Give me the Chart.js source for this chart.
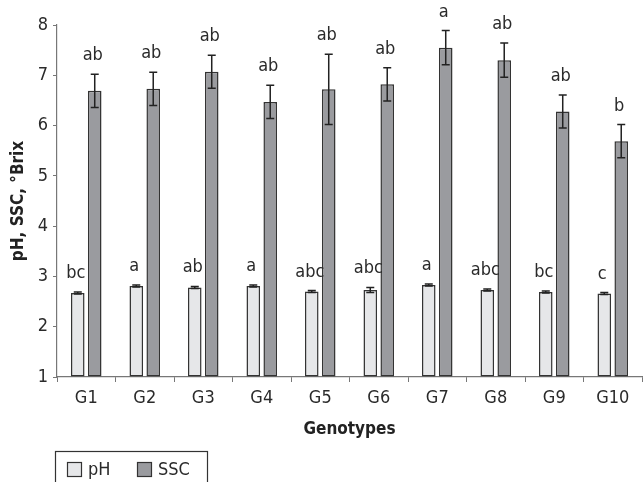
<!DOCTYPE html>
<html>
<head>
<meta charset="utf-8">
<script src="https://cdn.jsdelivr.net/npm/chart.js@4.4.1/dist/chart.umd.min.js"></script>
<style>
  html, body { margin: 0; padding: 0; background: #fff; }
  #wrap { width: 644px; height: 482px; position: relative; }
</style>
</head>
<body>
<div id="wrap"><canvas id="myChart" width="644" height="482"></canvas></div>
<script>
const genotypes = ['G1', 'G2', 'G3', 'G4', 'G5', 'G6', 'G7', 'G8', 'G9', 'G10'];
const phValues = [2.67, 2.81, 2.78, 2.81, 2.70, 2.73, 2.83, 2.73, 2.69, 2.66];
const phErrors = [0.02, 0.02, 0.02, 0.02, 0.02, 0.05, 0.02, 0.02, 0.02, 0.02];
const sscValues = [6.69, 6.73, 7.07, 6.47, 6.72, 6.82, 7.55, 7.30, 6.28, 5.69];
const sscErrors = [0.33, 0.33, 0.33, 0.33, 0.70, 0.33, 0.34, 0.34, 0.33, 0.33];
const phLetters = ['bc', 'a', 'ab', 'a', 'abc', 'abc', 'a', 'abc', 'bc', 'c'];
const sscLetters = ['ab', 'ab', 'ab', 'ab', 'ab', 'ab', 'a', 'ab', 'ab', 'b'];
const yTicks = [1, 2, 3, 4, 5, 6, 7, 8];

const FONT = '"Liberation Sans Narrow", "DejaVu Sans Condensed", "Roboto", sans-serif';

// error bars + significance letters on top of each bar
const errorBars = {
    id: 'errorBars',
    afterDatasetsDraw(chart) {
        const ctx = chart.ctx;
        const y = chart.scales.y;
        ctx.save();
        chart.data.datasets.forEach((ds, i) => {
            const meta = chart.getDatasetMeta(i);
            meta.data.forEach((bar, j) => {
                const v = ds.data[j];
                const e = ds.errors[j];
                const top = y.getPixelForValue(v + e);
                const bot = y.getPixelForValue(v - e);
                ctx.strokeStyle = '#222';
                ctx.lineWidth = 1.5;
                ctx.beginPath();
                ctx.moveTo(bar.x, top);
                ctx.lineTo(bar.x, bot);
                ctx.moveTo(bar.x - 4, top);
                ctx.lineTo(bar.x + 4, top);
                ctx.moveTo(bar.x - 4, bot);
                ctx.lineTo(bar.x + 4, bot);
                ctx.stroke();

                ctx.fillStyle = '#2a2a2a';
                ctx.font = '18px ' + FONT;
                ctx.textAlign = 'center';
                ctx.textBaseline = 'alphabetic';
                ctx.fillText(ds.letters[j], bar.x - 2, top - 14);
            });
        });
        ctx.restore();
    }
};

// boxed legend under the x axis title
const boxLegend = {
    id: 'boxLegend',
    afterDraw(chart) {
        const ctx = chart.ctx;
        ctx.save();
        ctx.strokeStyle = '#333';
        ctx.lineWidth = 1.2;
        ctx.strokeRect(55.5, 451.5, 152, 40);
        ctx.font = '18px ' + FONT;
        ctx.textBaseline = 'middle';
        ctx.textAlign = 'left';
        const xs = [67, 137];
        chart.data.datasets.forEach((ds, i) => {
            ctx.fillStyle = ds.backgroundColor;
            ctx.fillRect(xs[i] + 0.5, 462.5, 14, 14);
            ctx.strokeStyle = '#333';
            ctx.strokeRect(xs[i] + 0.5, 462.5, 14, 14);
            ctx.fillStyle = '#2a2a2a';
            ctx.fillText(ds.label, xs[i] + 21, 470);
        });
        ctx.restore();
    }
};

const ctx = document.getElementById('myChart');

new Chart(ctx, {
    type: 'bar',
    data: {
        labels: genotypes,
        datasets: [{
            label: 'pH',
            data: phValues,
            errors: phErrors,
            letters: phLetters,
            base: 1,
            backgroundColor: '#e6e7e9',
            borderColor: '#333',
            borderWidth: 1.5,
            borderSkipped: false,
            categoryPercentage: 0.58,
            barPercentage: 0.8
        }, {
            label: 'SSC',
            data: sscValues,
            errors: sscErrors,
            letters: sscLetters,
            base: 1,
            backgroundColor: '#9a9b9f',
            borderColor: '#333',
            borderWidth: 1.5,
            borderSkipped: false,
            categoryPercentage: 0.58,
            barPercentage: 0.8
        }]
    },
    options: {
        responsive: false,
        animation: false,
        layout: { padding: { top: 25, right: 2, left: 0, bottom: 0 } },
        plugins: {
            legend: { display: false },
            tooltip: { enabled: false }
        },
        scales: {
            x: {
                grid: { display: true, drawOnChartArea: false, color: '#777', tickLength: 5, lineWidth: 1 },
                border: { color: '#777', width: 1.2 },
                ticks: { color: '#2a2a2a', font: { family: FONT, size: 18 }, padding: 6 },
                title: {
                    display: true, text: 'Genotypes', color: '#222',
                    font: { family: FONT, size: 17, weight: 'bold' },
                    padding: { top: 0, bottom: 42 }
                },
                afterFit(scale) { scale.height = 105; }
            },
            y: {
                min: 1,
                max: 8,
                afterBuildTicks(scale) { scale.ticks = yTicks.map(v => ({ value: v })); },
                grid: { display: true, drawOnChartArea: false, color: '#777', tickLength: 4 },
                border: { color: '#777', width: 1.2 },
                ticks: { color: '#2a2a2a', font: { family: FONT, size: 18 }, padding: 5 },
                title: {
                    display: true, text: 'pH, SSC, °Brix', color: '#222',
                    font: { family: FONT, size: 17, weight: 'bold' },
                    padding: { top: 8, bottom: 0 }
                },
                afterFit(scale) { scale.width = 57; }
            }
        }
    },
    plugins: [errorBars, boxLegend]
});
</script>
</body>
</html>
